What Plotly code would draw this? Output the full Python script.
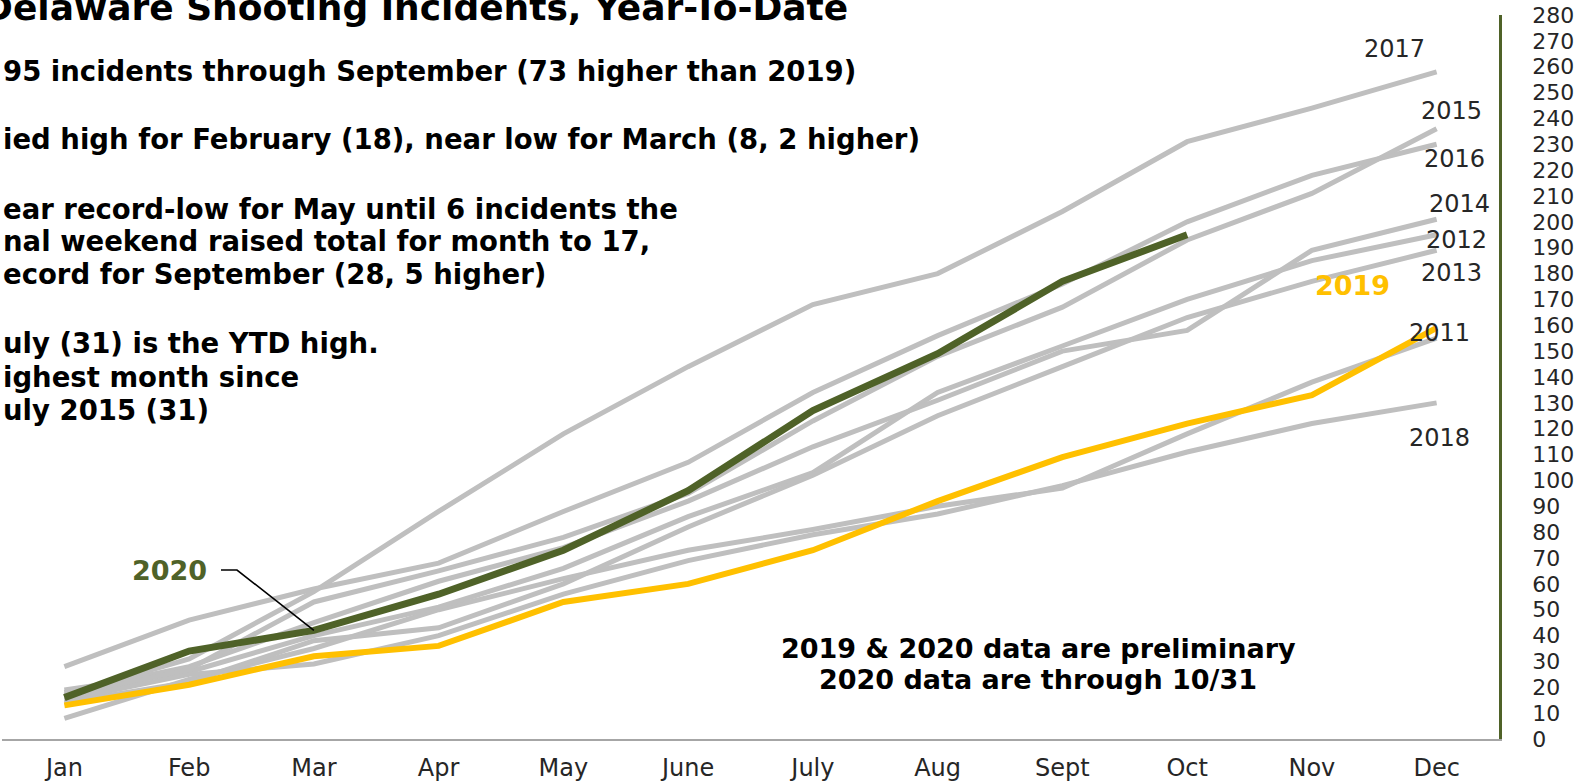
import plotly.graph_objects as go

months = ["Jan", "Feb", "Mar", "Apr", "May", "June", "July", "Aug", "Sept", "Oct", "Nov", "Dec"]

y2011 = [8, 23, 35, 50, 62, 73, 81, 90, 97, 118, 138, 155]
y2012 = [19, 26, 40, 51, 66, 86, 103, 134, 152, 170, 185, 195]
y2013 = [14, 22, 38, 43, 60, 82, 102, 125, 144, 163, 177, 189]
y2014 = [18, 28, 45, 61, 74, 92, 113, 131, 150, 158, 189, 201]
y2015 = [16, 27, 53, 65, 78, 95, 123, 148, 167, 193, 211, 236]
y2016 = [28, 46, 58, 68, 88, 107, 134, 156, 176, 200, 218, 230]
y2017 = [17, 31, 57, 88, 118, 144, 168, 180, 204, 231, 244, 258]
y2018 = [15, 25, 29, 40, 56, 69, 79, 87, 98, 111, 122, 130]
y2019 = [13, 21, 32, 36, 53, 60, 73, 92, 109, 122, 133, 159]
y2020 = [16, 34, 42, 56, 73, 96, 127, 149, 177, 195]

gray_years = {"2011": y2011, "2012": y2012, "2013": y2013, "2014": y2014,
              "2015": y2015, "2016": y2016, "2017": y2017, "2018": y2018}

y_ticks = list(range(0, 281, 10))

W, H = 1589, 781
L, R, T, B = 2, 90, 15, 42
PW, PH = W - L - R, H - T - B


def px(x):
    return (x - L) / PW


def py(y):
    return 1 - (y - T) / PH


GRAY = "#bfbfbf"
GREEN = "#4f6228"
GOLD = "#ffc000"
FONT = "DejaVu Sans"

fig = go.Figure()
for name, vals in gray_years.items():
    fig.add_trace(go.Scatter(x=months[:len(vals)], y=vals, mode="lines", name=name,
                             line=dict(color=GRAY, width=5), hoverinfo="skip"))
fig.add_trace(go.Scatter(x=months, y=y2019, mode="lines", name="2019",
                         line=dict(color=GOLD, width=6)))
fig.add_trace(go.Scatter(x=months[:len(y2020)], y=y2020, mode="lines", name="2020",
                         line=dict(color=GREEN, width=7)))

ann = []
text_lines = [
    ("Delaware Shooting Incidents, Year-To-Date", -19, 7, 36),
    ("95 incidents through September (73 higher than 2019)", 1, 71, 27.5),
    ("ied high for February (18), near low for March (8, 2 higher)", 1, 139, 27.5),
    ("ear record-low for May until 6 incidents the", 1, 209, 27.5),
    ("nal weekend raised total for month to 17,", 1, 241, 27.5),
    ("ecord for September (28, 5 higher)", 1, 274, 27.5),
    ("uly (31) is the YTD high.", 1, 343, 27.5),
    ("ighest month since", 1, 377, 27.5),
    ("uly 2015 (31)", 1, 410, 27.5),
]
for txt, x0, y0, fs in text_lines:
    ann.append(dict(text=txt, x=px(x0), y=py(y0), xref="paper", yref="paper",
                    xanchor="left", yanchor="middle", showarrow=False,
                    font=dict(family=FONT, size=fs, color="#000000", weight="bold")))

# note
for txt, y0 in [("2019 & 2020 data are preliminary", 648), ("2020 data are through 10/31", 679)]:
    ann.append(dict(text=txt, x=px(1038), y=py(y0), xref="paper", yref="paper",
                    xanchor="center", yanchor="middle", showarrow=False,
                    font=dict(family=FONT, size=27, color="#000000", weight="bold")))

# year labels
year_labels = [("2017", 1394, 49), ("2015", 1451, 111), ("2016", 1454, 159), ("2014", 1459, 204),
               ("2012", 1456, 240), ("2013", 1451, 273), ("2011", 1439, 333), ("2018", 1439, 438)]
for txt, x0, y0 in year_labels:
    ann.append(dict(text=txt, x=px(x0), y=py(y0), xref="paper", yref="paper",
                    xanchor="center", yanchor="middle", showarrow=False,
                    font=dict(family=FONT, size=24, color="#262626")))

ann.append(dict(text="2019", x=px(1352), y=py(285), xref="paper", yref="paper",
                xanchor="center", yanchor="middle", showarrow=False,
                font=dict(family=FONT, size=27, color=GOLD, weight="bold")))
ann.append(dict(text="2020", x=px(169), y=py(570), xref="paper", yref="paper",
                xanchor="center", yanchor="middle", showarrow=False,
                font=dict(family=FONT, size=27, color=GREEN, weight="bold")))

# leader line from 2020 label to the March value of 2020
cat_w = PW / 12.0
def xdata(xpix):
    return (xpix - L) / cat_w - 0.5
def ydata(ypix):
    return (T + PH - ypix) / PH * 280

mar_i = months.index("Mar")
leader = f"M {xdata(221)},{ydata(570)} L {xdata(237)},{ydata(570)} L {mar_i},{y2020[mar_i]}"
shapes = [dict(type="path", path=leader, xref="x", yref="y",
               line=dict(color="#000000", width=1.6))]

fig.update_layout(
    width=W, height=H,
    margin=dict(l=L, r=R, t=T, b=B),
    paper_bgcolor="white", plot_bgcolor="white",
    showlegend=False,
    annotations=ann,
    shapes=shapes,
    xaxis=dict(type="category", categoryorder="array", categoryarray=months,
               range=[-0.5, 11.5], showgrid=False, zeroline=False, automargin=False,
               showline=True, linecolor="#a6a6a6", linewidth=2, ticks="",
               tickfont=dict(family=FONT, size=24, color="#262626"),
               ticklabelstandoff=6),
    yaxis=dict(side="right", range=[0, 280], tickvals=y_ticks, showgrid=False, automargin=False,
               zeroline=False, showline=True, linecolor=GREEN, linewidth=2.5, ticks="",
               tickfont=dict(family=FONT, size=22, color="#262626"),
               ticklabelstandoff=26),
)

fig.write_html("out.html", config={"displayModeBar": False},
               post_script="document.body.style.margin='0px';document.body.style.overflow='hidden';")
